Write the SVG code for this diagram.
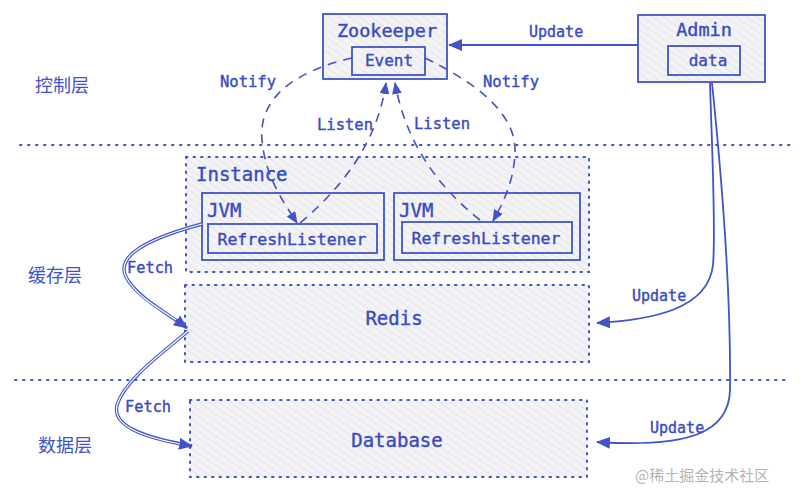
<svg xmlns="http://www.w3.org/2000/svg" width="801" height="500" viewBox="0 0 801 500">
<style>
.t{font-family:"DejaVu Sans Mono","Liberation Mono",monospace;fill:#3a4cc2;stroke:#3a4cc2;stroke-width:0.4}
.cn{font-family:"Noto Sans CJK SC",sans-serif;fill:#4054c8}
.box{fill:url(#hatch);stroke:#4054c8;stroke-width:1.8}
.dbox{fill:url(#hatch);stroke:#4054c8;stroke-width:2;stroke-dasharray:1.5 6;stroke-linecap:round}
.sep{stroke:#4054c8;stroke-width:2;stroke-dasharray:1.5 6.5;stroke-linecap:round;fill:none}
.dash{fill:none;stroke:#4054c8;stroke-width:1.6;stroke-dasharray:9 7}
.sol{fill:none;stroke:#4054c8;stroke-width:1.8}
.dbl{fill:none;stroke:#4054c8;stroke-width:3.4}
.dbli{fill:none;stroke:#ffffff;stroke-width:1.2}
</style>
<defs>
<pattern id="hatch" patternUnits="userSpaceOnUse" width="6" height="6" patternTransform="rotate(-55)">
<rect width="6" height="6" fill="#f3f3f6"/>
<line x1="0" y1="0" x2="0" y2="6" stroke="#d9d9e0" stroke-width="1"/>
</pattern>
<marker id="ah" viewBox="0 0 14 12" refX="13" refY="6" markerWidth="14" markerHeight="12" markerUnits="userSpaceOnUse" orient="auto">
<path d="M0,0 L14,6 L0,12 Z" fill="#4054c8"/>
</marker>
<marker id="ahs" viewBox="0 0 12 10" refX="11" refY="5" markerWidth="12" markerHeight="10" markerUnits="userSpaceOnUse" orient="auto">
<path d="M0,0 L12,5 L0,10 Z" fill="#4054c8"/>
</marker>
</defs>
<rect width="801" height="500" fill="#ffffff"/>

<g id="separators">
<line class="sep" x1="20" y1="145" x2="790" y2="145"/>
<line class="sep" x1="15" y1="380" x2="790" y2="380"/>
</g>

<g id="layer-labels">
<text class="cn" x="35" y="92" font-size="18">控制层</text>
<text class="cn" x="28" y="282" font-size="18">缓存层</text>
<text class="cn" x="38" y="452" font-size="18">数据层</text>
</g>

<g id="instance">
<rect class="dbox" x="186" y="157" width="403" height="115"/>
<text class="t" x="196" y="181" font-size="19">Instance</text>
</g>

<g id="redis">
<rect class="dbox" x="185" y="285" width="404" height="77"/>
<text class="t" x="394" y="325" font-size="19" text-anchor="middle">Redis</text>
</g>

<g id="database">
<rect class="dbox" x="190" y="400" width="397" height="77"/>
<text class="t" x="397" y="447" font-size="19" text-anchor="middle">Database</text>
</g>

<g id="zookeeper">
<rect class="box" x="323" y="14" width="124" height="65"/>
<text class="t" x="387" y="37" font-size="18.5" text-anchor="middle">Zookeeper</text>
</g>
<g id="event">
<rect class="box" x="352" y="47" width="73" height="28"/>
<text class="t" x="389" y="66" font-size="16" text-anchor="middle">Event</text>
</g>

<g id="admin">
<rect class="box" x="638" y="15" width="127" height="67"/>
<text class="t" x="704" y="36" font-size="18.5" text-anchor="middle">Admin</text>
</g>
<g id="data">
<rect class="box" x="668" y="46" width="72" height="29"/>
<text class="t" x="708" y="66" font-size="16" text-anchor="middle">data</text>
</g>

<g id="jvm1">
<rect class="box" x="202" y="193" width="182" height="67"/>
<text class="t" x="207" y="217" font-size="19">JVM</text>
</g>
<g id="refresh1">
<rect class="box" x="208" y="224" width="169" height="29"/>
<text class="t" x="292" y="245" font-size="16.5" text-anchor="middle">RefreshListener</text>
</g>

<g id="jvm2">
<rect class="box" x="394" y="193" width="186" height="67"/>
<text class="t" x="399" y="217" font-size="19">JVM</text>
</g>
<g id="refresh2">
<rect class="box" x="402" y="222" width="170" height="31"/>
<text class="t" x="486" y="244" font-size="16.5" text-anchor="middle">RefreshListener</text>
</g>

<g id="connectors">
<path class="sol" d="M638,45 L449,45" marker-end="url(#ah)"/>
<path class="dash" d="M352,58 C300,70 258,95 262,140 C265,175 282,200 297,223" marker-end="url(#ahs)"/>
<path class="dash" d="M425,58 C470,80 515,110 515,150 C515,180 502,205 493,221" marker-end="url(#ahs)"/>
<path class="dash" d="M300,223 Q375,160 386,83" marker-end="url(#ahs)"/>
<path class="dash" d="M480,220 Q410,165 395,83" marker-end="url(#ahs)"/>
<path class="dbl" d="M202,224 C150,238 115,255 126,277 C136,296 165,312 187,328" marker-end="url(#ah)"/>
<path class="dbli" d="M202,224 C150,238 115,255 126,277 C136,296 160,309 176,320"/>
<path class="dbl" d="M188,331 C160,355 125,380 117,405 C112,425 140,437 192,446" marker-end="url(#ah)"/>
<path class="dbli" d="M188,331 C160,355 125,380 117,405 C112,425 140,436 180,444"/>
<path class="sol" d="M710,83 C712,150 716,230 713,265 C708,310 650,320 597,323" marker-end="url(#ah)"/>
<path class="sol" d="M712,83 C722,180 731,300 730,390 C729,432 690,448 597,442" marker-end="url(#ah)"/>
</g>

<g id="connector-labels">
<text class="t" x="529" y="37" font-size="15">Update</text>
<text class="t" x="220" y="87" font-size="15.5">Notify</text>
<text class="t" x="483" y="87" font-size="15.5">Notify</text>
<text class="t" x="317" y="130" font-size="15.5">Listen</text>
<text class="t" x="414" y="129" font-size="15.5">Listen</text>
<text class="t" x="127" y="273" font-size="15.3">Fetch</text>
<text class="t" x="125" y="412" font-size="15.3">Fetch</text>
<text class="t" x="632" y="301" font-size="15">Update</text>
<text class="t" x="650" y="433" font-size="15">Update</text>
</g>

<text x="635" y="481" font-family="Noto Sans CJK SC, sans-serif" font-size="15" fill="#b4b4b4">@稀土掘金技术社区</text>
</svg>
